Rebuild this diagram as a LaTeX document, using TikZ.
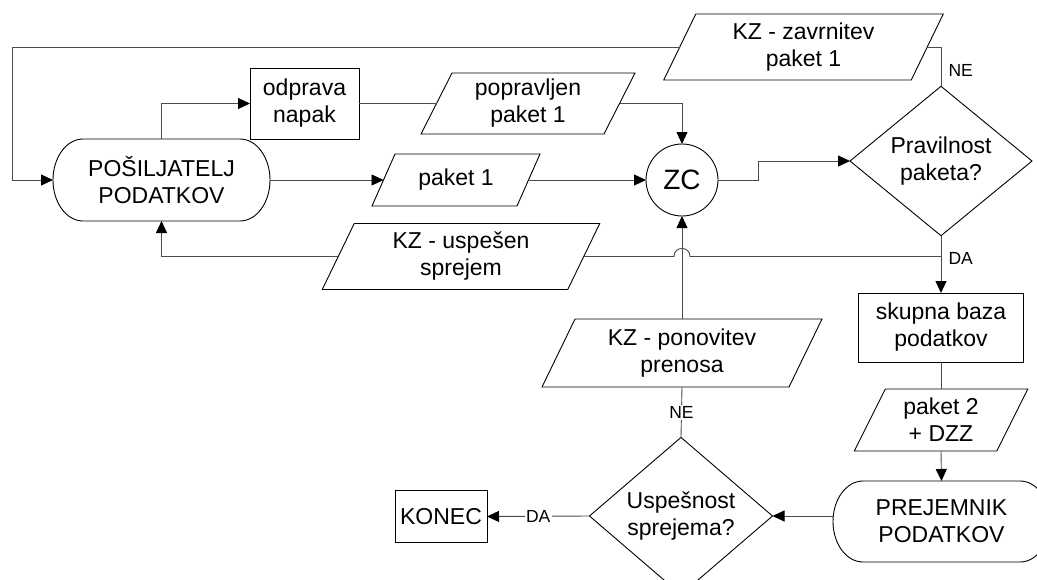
\documentclass[tikz,border=0pt]{standalone}
\usepackage{fontspec}
\setmainfont{Liberation Sans}
\usetikzlibrary{arrows.meta,shapes.geometric,calc}

% parallelogram (data) outline around a node: #1 node, #2 horizontal slant
\newcommand\slantbox[2]{%
  \draw[outline] ([xshift={-0.5*#2pt}]#1.south west) -- ([xshift={0.5*#2pt}]#1.north west)
    -- ([xshift={0.5*#2pt}]#1.north east) -- ([xshift={-0.5*#2pt}]#1.south east) -- cycle;}

% terminal outline with elliptic ends: #1 node, #2 horizontal radius, #3 vertical radius
\newcommand\capsule[3]{%
  \draw[outline] ([xshift=#2pt]#1.north west) -- ([xshift=-#2pt]#1.north east)
    .. controls ([xshift={-0.448*#2pt}]#1.north east) and ([yshift={0.552*#3pt}]#1.east) .. (#1.east)
    .. controls ([yshift={-0.552*#3pt}]#1.east) and ([xshift={-0.448*#2pt}]#1.south east) .. ([xshift=-#2pt]#1.south east)
    -- ([xshift=#2pt]#1.south west)
    .. controls ([xshift={0.448*#2pt}]#1.south west) and ([yshift={-0.552*#3pt}]#1.west) .. (#1.west)
    .. controls ([yshift={0.552*#3pt}]#1.west) and ([xshift={0.448*#2pt}]#1.north west) .. ([xshift=#2pt]#1.north west) -- cycle;}

\begin{document}
\begin{tikzpicture}[x=1pt,y=-1pt,
  every node/.style={outer sep=0pt},
  txt/.style={font=\fontsize{23}{27}\selectfont, align=center, inner sep=0pt},
  procbox/.style={txt, rectangle, draw=black, line width=0.9pt},
  termbox/.style={txt, rectangle},
  iobox/.style={txt, rectangle},
  decision/.style={txt, diamond, draw=black, line width=0.9pt},
  outline/.style={draw=black, line width=0.9pt},
  conn/.style={draw=black!70, line width=0.9pt},
  arr/.style={conn, -{Triangle[length=12pt,width=11pt,color=black]}},
  lbl/.style={font=\fontsize{17.5}{19}\selectfont, inner sep=1.5pt}
]
\useasboundingbox (0,0) rectangle (1037,579);
\clip (0,0) rectangle (1037,579);

% nodes
\node[termbox, minimum width=217pt, minimum height=82pt] (send) at (161.5,180) {POŠILJATELJ\\PODATKOV};
\node[procbox, minimum width=109pt, minimum height=71pt] (fix) at (304.5,103.5) {odprava\\napak};
\node[iobox, minimum width=183pt, minimum height=61pt] (fixed) at (528,103.5) {popravljen\\paket 1};
\node[iobox, minimum width=145pt, minimum height=52pt] (pk1) at (456,180) {paket 1};
\node[iobox, minimum width=247.5pt, minimum height=66pt] (rej) at (803.5,47) {KZ - zavrnitev\\paket 1};
\node[iobox, minimum width=245.5pt, minimum height=66pt] (ack) at (461,256.5) {KZ - uspešen\\sprejem};
\node[circle, draw=black, line width=0.9pt, minimum size=72pt, inner sep=0pt,
      font=\fontsize{28}{30}\selectfont] (zc) at (682,180) {ZC};
\node[decision, minimum width=182pt, minimum height=136pt] (check) at (941,161) {Pravilnost\\paketa?};
\node[procbox, minimum width=165pt, minimum height=69pt] (db) at (941,327.5) {skupna baza\\podatkov};
\node[iobox, minimum width=142.5pt, minimum height=62pt] (pk2) at (941,420) {paket 2\\+ DZZ};
\node[termbox, minimum width=217pt, minimum height=81pt] (recv) at (941.5,521.5) {PREJEMNIK\\PODATKOV};
\node[iobox, minimum width=247pt, minimum height=68pt] (retry) at (682,353) {KZ - ponovitev\\prenosa};
\node[decision, minimum width=183pt, minimum height=136pt] (ok) at (681,516) {Uspešnost\\sprejema?};
\node[procbox, minimum width=92pt, minimum height=52pt] (stop) at (441,516.5) {KONEC};

% outlines of terminals and data shapes
\capsule{send}{30}{41}
\capsule{recv}{30}{40.5}
\slantbox{fixed}{31}
\slantbox{pk1}{23}
\slantbox{rej}{32}
\slantbox{ack}{32}
\slantbox{retry}{33}
\slantbox{pk2}{31}

% connectors
\coordinate (tl) at (12,47);
\coordinate (bend) at (758,180);
\coordinate (split) at (check.south |- ack.east);
\coordinate (hop) at (zc.south |- ack.east);

\draw[conn] (check.north) |- (rej.east);
\draw[arr] (rej.west) -- (tl) |- (send.west);
\draw[arr] (send.north) |- (fix.west);
\draw[conn] (fix.east) -- (fixed.west);
\draw[arr] (fixed.east) -| (zc.north);
\draw[arr] (send.east) -- (pk1.west);
\draw[arr] (pk1.east) -- (zc.west);
\draw[arr] (zc.east) -- (bend) |- (check.west);
\draw[arr] (check.south) -- (db.north);
\draw[conn] (split) -- ([xshift=8pt]hop)
  .. controls ([xshift=8pt,yshift=10.7pt]hop) and ([xshift=-8pt,yshift=10.7pt]hop) .. ([xshift=-8pt]hop)
  -- (ack.east);
\draw[arr] (ack.west) -| (send.south);
\draw[arr] (retry.north) -- (zc.south);
\draw[conn] (ok.north) -- (retry.south) node[midway, lbl, fill=white] (ne2) {NE};
\draw[conn] (db.south) -- (pk2.north);
\draw[arr] (pk2.south) -- (recv.north);
\draw[arr] (recv.west |- ok.east) -- (ok.east);
\draw[arr] (ok.west) -- (stop.east) node[midway, lbl, fill=white] (da2) {DA};

% branch labels
\node[lbl, anchor=west] (ne1) at (947,70) {NE};
\node[lbl, anchor=west] (da1) at (947,258) {DA};
\end{tikzpicture}
\end{document}
